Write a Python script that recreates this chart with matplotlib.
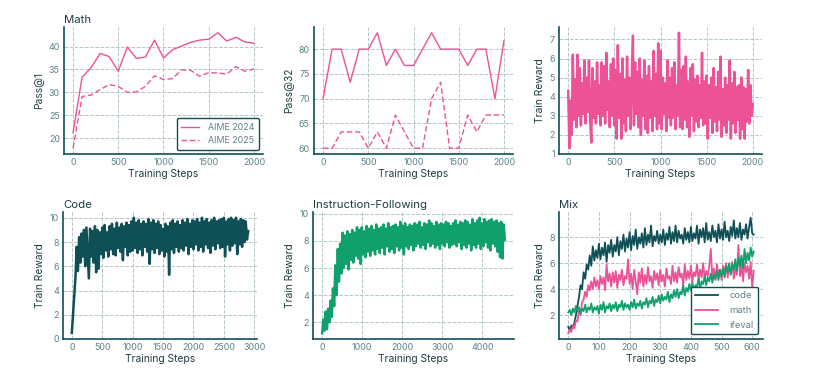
import numpy as np
import matplotlib
matplotlib.use("Agg")
import matplotlib.pyplot as plt

plt.rcParams['font.family'] = ['Inter', 'DejaVu Sans']

PINK = '#ee5296'
TEAL = '#0f4f56'
GREEN = '#10a06c'
GRID = '#9fb8bb'
TICK = '#5d8388'
LABEL = '#1d3c41'

# ---- Math eval (every 100 steps) ----
eval_steps = [0, 100, 200, 300, 400, 500, 600, 700, 800, 900, 1000,
              1100, 1200, 1300, 1400, 1500, 1600, 1700, 1800, 1900, 2000]
aime24_p1 = [21.2, 33.3, 35.4, 38.5, 37.8, 34.6, 39.9, 37.4, 37.7, 41.4, 37.5,
             39.3, 40.1, 40.9, 41.4, 41.6, 43.0, 41.2, 42.0, 41.0, 40.7]
aime25_p1 = [17.8, 29.1, 29.4, 30.6, 31.7, 31.3, 30.0, 30.1, 31.3, 33.6, 32.8,
             33.0, 34.9, 34.8, 33.5, 34.3, 34.2, 34.0, 35.6, 34.6, 35.1]
aime24_p32 = [70.0, 80.0, 80.0, 73.3, 80.0, 80.0, 83.3, 76.7, 80.0, 76.7, 76.7,
              80.0, 83.3, 80.0, 80.0, 80.0, 76.7, 80.0, 80.0, 70.0, 81.7]
aime25_p32 = [60.0, 60.0, 63.3, 63.3, 63.3, 60.0, 63.3, 60.0, 66.7, 63.3, 60.0,
              60.0, 70.0, 73.3, 60.0, 60.0, 66.7, 63.3, 66.7, 66.7, 66.7]

# ---- Math train reward (every 12.5 steps) ----
math_steps = np.arange(0, 2000.1, 12.5)
math_reward = [
    4.3, 1.3, 3.8, 2.0, 6.2, 2.8, 4.9, 2.4, 6.2, 3.0,
    5.5, 2.5, 4.7, 3.1, 5.9, 2.6, 5.0, 3.2, 5.9, 2.8,
    1.6, 5.5, 2.9, 4.8, 2.6, 5.8, 3.1, 4.6, 2.5, 5.8,
    3.0, 5.6, 2.6, 6.3, 3.3, 4.8, 2.4, 5.7, 3.0, 6.0,
    2.5, 5.4, 1.8, 6.7, 2.9, 5.2, 1.8, 6.0, 2.6, 4.9,
    2.2, 6.1, 3.0, 5.0, 2.3, 4.7, 7.2, 2.5, 5.8, 3.1,
    5.3, 2.4, 6.0, 2.0, 4.9, 3.0, 5.9, 2.3, 5.1, 2.1,
    5.6, 2.9, 4.8, 2.2, 6.4, 3.0, 5.2, 2.3, 6.8, 2.6,
    6.4, 2.3, 5.0, 3.1, 4.7, 2.2, 5.9, 2.9, 5.0, 2.5,
    5.5, 2.9, 5.8, 2.3, 4.6, 3.0, 7.35, 2.4, 5.4, 2.3,
    5.6, 2.8, 6.1, 2.4, 4.8, 1.9, 5.5, 3.0, 5.7, 2.2,
    4.9, 2.7, 5.1, 2.4, 4.6, 2.9, 6.3, 2.5, 4.8, 2.6,
    5.1, 1.8, 4.6, 2.9, 5.0, 2.1, 5.5, 2.7, 4.5, 2.2,
    5.3, 2.8, 6.1, 1.9, 4.4, 2.5, 5.0, 2.1, 4.6, 2.8,
    5.9, 1.8, 4.7, 2.6, 5.3, 2.1, 4.5, 2.8, 4.6, 1.8,
    5.0, 2.3, 4.5, 1.8, 4.4, 2.7, 5.4, 2.6, 4.6, 3.0,
    3.6]

# ---- Code train reward (every 20 steps) ----
code_steps = np.arange(0, 2901, 20)
code_reward = [
    0.5, 2.0, 3.4, 5.1, 7.6, 5.6, 8.4, 6.3, 8.7, 6.8,
    9.0, 6.0, 9.2, 7.1, 5.0, 9.1, 6.8, 8.9, 6.3, 9.3,
    5.5, 9.0, 5.8, 8.8, 7.0, 9.2, 6.7, 9.4, 7.3, 8.8,
    6.8, 9.3, 7.4, 9.5, 7.0, 9.1, 6.9, 9.6, 7.5, 9.2,
    7.2, 9.5, 6.5, 9.3, 7.6, 9.6, 6.9, 9.4, 7.2, 9.7,
    7.3, 10.0, 7.5, 9.6, 7.1, 9.8, 7.4, 9.5, 6.9, 9.7,
    7.6, 9.5, 7.2, 9.9, 6.2, 9.6, 7.4, 9.8, 7.1, 9.5,
    7.5, 9.7, 7.0, 9.4, 7.3, 9.1, 6.8, 9.5, 7.2, 9.3,
    5.3, 9.6, 7.4, 9.8, 7.1, 9.5, 7.6, 9.7, 7.2, 9.4,
    7.5, 9.8, 7.3, 9.6, 7.7, 9.9, 7.0, 9.5, 7.6, 9.8,
    7.4, 9.7, 7.8, 9.9, 7.3, 9.6, 7.6, 10.0, 7.2, 9.7,
    7.8, 9.9, 7.5, 9.6, 7.1, 9.8, 7.7, 10.0, 7.4, 9.7,
    7.9, 9.8, 7.5, 9.9, 7.6, 10.0, 6.8, 9.7, 7.8, 9.9,
    7.3, 10.0, 7.7, 9.8, 7.9, 10.0, 7.0, 9.7, 7.8, 9.9,
    7.6, 9.8, 8.0, 9.7, 8.2, 8.9]

# ---- Instruction-following train reward (every 30 steps) ----
if_steps = np.arange(0, 4561, 30)
if_reward = [
    1.2, 2.2, 1.4, 2.8, 1.5, 3.0, 2.0, 3.6, 2.4, 4.5,
    3.2, 6.2, 4.0, 7.4, 5.0, 7.8, 5.6, 8.6, 6.0, 8.4,
    6.3, 8.7, 5.9, 8.5, 6.6, 8.8, 6.4, 8.6, 6.9, 9.0,
    6.7, 8.8, 6.3, 9.0, 7.0, 8.7, 6.8, 9.1, 7.2, 8.9,
    6.9, 9.1, 7.3, 8.8, 7.0, 9.2, 7.4, 8.9, 7.1, 9.0,
    7.5, 9.2, 7.0, 8.9, 7.6, 9.3, 7.2, 9.0, 7.4, 9.1,
    7.1, 9.2, 7.6, 9.0, 7.3, 9.4, 7.5, 9.1, 7.0, 9.3,
    7.6, 9.0, 7.4, 9.2, 7.7, 9.1, 7.3, 9.3, 7.6, 9.2,
    7.8, 9.4, 7.5, 9.0, 7.7, 9.3, 7.4, 9.2, 7.9, 9.5,
    7.6, 9.3, 7.8, 9.1, 7.5, 9.4, 7.7, 9.2, 7.4, 9.3,
    7.8, 9.2, 7.6, 9.4, 7.9, 9.3, 7.5, 9.1, 7.7, 9.3,
    7.8, 9.5, 7.6, 9.2, 7.9, 9.4, 7.4, 9.3, 7.7, 9.5,
    7.5, 9.4, 7.8, 9.2, 7.3, 9.6, 7.7, 9.3, 7.5, 9.5,
    7.8, 9.7, 7.4, 9.3, 7.6, 9.6, 7.9, 9.4, 7.5, 9.5,
    7.3, 9.6, 7.8, 9.4, 7.6, 9.5, 7.2, 9.3, 6.8, 9.4,
    6.7, 9.2, 8.1]

# ---- Mix train reward (every 5 steps) ----
mix_steps = np.arange(0, 606, 5)
mix_code = [
    1.1, 0.8, 1.2, 1.0, 1.4, 2.0, 2.7, 3.4, 4.3, 4.0,
    5.3, 4.8, 5.9, 5.5, 6.6, 5.8, 7.3, 6.2, 7.0, 6.4,
    7.5, 6.3, 7.2, 6.6, 7.6, 6.1, 7.4, 6.8, 7.8, 6.5,
    7.4, 6.9, 8.0, 6.6, 7.7, 7.1, 8.2, 6.9, 7.9, 7.2,
    8.4, 7.0, 8.1, 7.4, 8.6, 7.1, 8.0, 7.5, 8.3, 7.2,
    8.7, 7.4, 8.2, 7.6, 8.9, 7.3, 8.1, 7.7, 8.5, 7.5,
    8.2, 7.6, 8.6, 7.4, 8.3, 7.8, 8.8, 7.5, 8.4, 7.7,
    8.9, 7.6, 8.5, 7.9, 8.2, 7.5, 8.7, 7.8, 8.4, 7.6,
    8.8, 7.7, 8.3, 7.9, 8.9, 7.5, 8.6, 8.0, 8.7, 7.6,
    9.1, 7.8, 8.4, 7.7, 8.9, 8.0, 8.5, 7.6, 9.0, 7.9,
    8.6, 7.8, 9.2, 8.0, 8.5, 7.7, 8.8, 8.1, 9.3, 7.9,
    8.7, 8.0, 9.1, 7.8, 8.6, 8.2, 9.0, 7.9, 8.8, 9.5,
    8.3, 8.2]
mix_math = [
    0.6, 0.9, 0.7, 1.2, 1.0, 1.6, 1.5, 2.4, 2.0, 3.0,
    3.2, 3.8, 3.4, 4.3, 3.9, 4.6, 4.0, 4.9, 4.2, 4.7,
    4.0, 5.0, 4.4, 4.9, 3.9, 5.9, 4.6, 5.2, 4.2, 5.3,
    4.5, 5.4, 4.1, 5.1, 4.7, 5.5, 4.3, 5.0, 4.8, 6.3,
    4.4, 5.2, 4.0, 5.5, 4.6, 3.6, 5.3, 4.5, 5.6, 4.2,
    5.1, 4.4, 5.7, 4.6, 5.0, 4.1, 5.4, 4.7, 5.2, 4.3,
    5.5, 4.6, 5.1, 4.2, 5.6, 4.8, 5.0, 4.4, 5.8, 4.6,
    5.3, 4.5, 5.7, 4.9, 5.2, 4.3, 5.9, 4.7, 5.4, 4.8,
    5.8, 4.6, 5.3, 5.0, 5.9, 4.7, 5.5, 4.9, 6.0, 4.8,
    5.4, 5.0, 5.8, 7.1, 4.8, 5.6, 4.7, 5.9, 5.1, 5.5,
    4.7, 5.8, 5.2, 6.0, 4.9, 5.6, 5.3, 6.1, 4.8, 5.7,
    5.1, 7.4, 5.0, 5.9, 4.6, 6.0, 5.3, 5.8, 4.8, 6.1,
    4.1, 5.4]
mix_ifeval = [
    2.2, 2.4, 2.0, 2.5, 2.2, 2.7, 2.3, 2.6, 2.1, 2.5,
    2.3, 2.8, 2.2, 2.6, 2.4, 2.9, 2.2, 2.6, 2.4, 2.7,
    2.1, 2.8, 2.4, 3.0, 2.2, 2.7, 2.5, 2.9, 2.3, 2.8,
    2.5, 3.0, 2.3, 2.8, 2.6, 3.1, 2.4, 2.9, 2.6, 2.8,
    2.4, 3.0, 2.6, 3.2, 2.5, 2.9, 2.7, 3.1, 2.5, 3.0,
    2.8, 3.3, 2.6, 3.1, 2.9, 3.4, 2.7, 3.2, 3.0, 3.5,
    2.9, 3.6, 3.1, 3.4, 3.2, 3.8, 3.0, 3.6, 3.3, 3.9,
    3.4, 4.0, 3.3, 3.8, 3.6, 4.3, 3.5, 4.1, 3.8, 4.4,
    3.9, 4.5, 3.8, 4.3, 4.2, 4.8, 4.0, 4.6, 4.4, 5.0,
    4.3, 4.9, 4.6, 5.2, 4.5, 5.1, 4.8, 5.4, 4.7, 5.5,
    5.0, 5.6, 4.9, 5.8, 5.3, 6.0, 5.1, 5.9, 5.5, 6.3,
    5.4, 6.4, 5.8, 6.6, 5.6, 7.1, 6.0, 6.8, 6.2, 7.2,
    6.5, 6.9]


def style(ax, title=None, ylabel='Train Reward'):
    for s in ['top', 'right']:
        ax.spines[s].set_visible(False)
    for s in ['left', 'bottom']:
        ax.spines[s].set_color(TEAL)
        ax.spines[s].set_linewidth(1.2)
    ax.grid(True, color=GRID, linestyle='--', linewidth=0.7, alpha=0.8)
    ax.set_axisbelow(True)
    ax.tick_params(length=0, pad=3, labelsize=6.4, labelcolor=TICK)
    ax.set_xlabel('Training Steps', fontsize=7.4, color=LABEL, labelpad=1)
    ax.set_ylabel(ylabel, fontsize=7.4, color=LABEL, labelpad=3)
    if title:
        ax.set_title(title, loc='left', fontsize=8.2, color=LABEL, pad=3)


def style_legend(leg):
    leg.get_frame().set_edgecolor(TEAL)
    leg.get_frame().set_linewidth(1)
    leg.get_frame().set_alpha(1)
    for t in leg.get_texts():
        t.set_color(TICK)


fig = plt.figure(figsize=(8.17, 3.78), dpi=100)
W, H = 817.0, 378.0


def add_ax(left, top, right, bottom):
    return fig.add_axes([left / W, 1 - bottom / H, (right - left) / W, (bottom - top) / H])


ax1 = add_ax(64, 27, 263, 154)
ax2 = add_ax(314, 27, 513, 154)
ax3 = add_ax(559, 27, 762, 154)
ax4 = add_ax(63, 212, 257, 339)
ax5 = add_ax(313, 212, 514, 339)
ax6 = add_ax(559, 212, 763, 339)

# Math pass@1
ax1.plot(eval_steps, aime24_p1, color=PINK, lw=1, label='AIME 2024')
ax1.plot(eval_steps, aime25_p1, color=PINK, lw=1, ls=(0, (4, 2)), label='AIME 2025')
ax1.set_xticks([0, 500, 1000, 1500, 2000])
ax1.set_yticks([20, 25, 30, 35, 40])
style(ax1, 'Math', 'Pass@1')
style_legend(ax1.legend(loc='lower right', fontsize=6.4, handlelength=2.0,
                        handletextpad=1.0, borderpad=0.5, labelspacing=0.5))

# Math pass@32
ax2.plot(eval_steps, aime24_p32, color=PINK, lw=1)
ax2.plot(eval_steps, aime25_p32, color=PINK, lw=1, ls=(0, (4, 2)))
ax2.set_xticks([0, 500, 1000, 1500, 2000])
ax2.set_yticks([60, 65, 70, 75, 80])
style(ax2, None, 'Pass@32')

# Math train reward
ax3.plot(math_steps, math_reward, color=PINK, lw=1.8)
ax3.set_xticks([0, 500, 1000, 1500, 2000])
ax3.set_yticks([1, 2, 3, 4, 5, 6, 7])
style(ax3)

# Code
ax4.plot(code_steps, code_reward, color=TEAL, lw=1.8)
ax4.set_xticks([0, 500, 1000, 1500, 2000, 2500, 3000])
ax4.set_yticks([0, 2, 4, 6, 8, 10])
style(ax4, 'Code')

# Instruction following
ax5.plot(if_steps, if_reward, color=GREEN, lw=1.8)
ax5.set_xticks([0, 1000, 2000, 3000, 4000])
ax5.set_yticks([2, 4, 6, 8, 10])
style(ax5, 'Instruction-Following')

# Mix
ax6.plot(mix_steps, mix_code, color=TEAL, lw=1.3, label='code')
ax6.plot(mix_steps, mix_math, color=PINK, lw=1.3, label='math')
ax6.plot(mix_steps, mix_ifeval, color=GREEN, lw=1.3, label='ifeval')
ax6.set_xticks([0, 100, 200, 300, 400, 500, 600])
ax6.set_yticks([2, 4, 6, 8])
style(ax6, 'Mix')
style_legend(ax6.legend(loc='lower right', fontsize=6.8, handlelength=2.4,
                        handletextpad=1.2, borderpad=0.5, labelspacing=0.6))

fig.savefig('out.png', dpi=100)
